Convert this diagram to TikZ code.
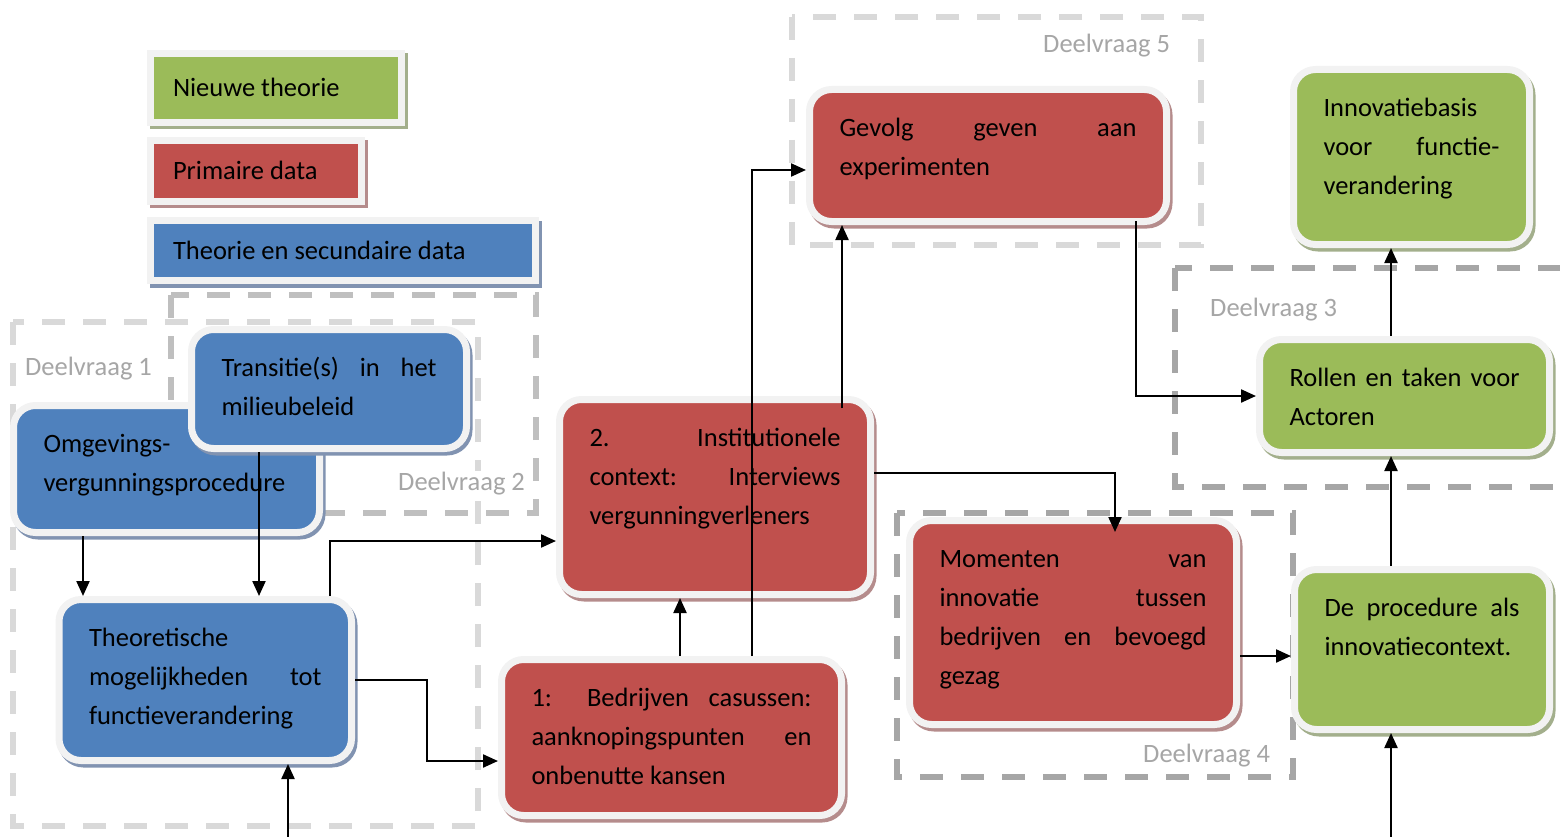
\documentclass[tikz,border=0pt]{standalone}
\usepackage{fontspec}
\setmainfont{Carlito}
\usetikzlibrary{arrows.meta,shadows}

\definecolor{nblue}{HTML}{4F81BD}
\definecolor{nred}{HTML}{C0504D}
\definecolor{ngreen}{HTML}{9BBB59}
\definecolor{nbluesh}{HTML}{8193B1}
\definecolor{nredsh}{HTML}{B58C8C}
\definecolor{ngreensh}{HTML}{A3AF8C}
\definecolor{rimgray}{HTML}{F2F2F2}
\definecolor{dlight}{HTML}{D9D9D9}
\definecolor{dmid}{HTML}{BFBFBF}
\definecolor{ddark}{HTML}{A6A6A6}
\definecolor{lblgray}{HTML}{A6A6A6}

\tikzset{
  boxfont/.style={font=\fontsize{26.5}{39}\selectfont},
  fbx/.style={rounded corners=22pt, fill=#1, draw=rimgray, line width=7pt,
    outer sep=3.5pt, inner xsep=30pt, inner ysep=20pt, boxfont,
    general shadow={shadow xshift=2.5pt, shadow yshift=-3.5pt,
      fill=#1sh, draw=#1sh, line width=7pt}},
  legendbox/.style={rectangle, fill=#1, draw=rimgray, line width=7pt,
    outer sep=3.5pt, inner xsep=22.5pt, inner ysep=0pt, boxfont,
    general shadow={shadow xshift=2.5pt, shadow yshift=-3.5pt,
      fill=#1sh, draw=#1sh, line width=7pt}},
  zone/.style={draw=#1, line width=5.5pt, dash pattern=on 23pt off 18pt},
  zonelabel/.style={text=lblgray, boxfont, inner sep=1pt, fill=white, anchor=base west},
  conn/.style={draw=black, line width=2.2pt, -{Triangle[length=15pt,width=13pt]}},
}

% rounded box: name, x1, y1, x2, y2 (border path), colour, text (set from the top)
\newcommand\flowbox[7]{%
  \pgfmathsetmacro\fbw{#4-#2-60}%
  \pgfmathsetmacro\fbh{#5-#3-40}%
  \node[fbx=#6] (#1) at ({(#2+#4)/2},{(#3+#5)/2})
    {\parbox[c][\fbh pt][t]{\fbw pt}{\tolerance=10000\hyphenpenalty=10000\strut#7}};%
}
% legend entry: name, x1, y1, x2, y2, colour, text
\newcommand\keyentry[7]{%
  \pgfmathsetmacro\fbw{#4-#2-45}%
  \node[legendbox=#6, minimum height={#5-#3}] (#1) at ({(#2+#4)/2},{(#3+#5)/2})
    {\parbox{\fbw pt}{\rule[-12pt]{0pt}{42pt}#7}};%
}

\begin{document}
\begin{tikzpicture}[x=1pt,y=-1pt]
\clip (0,0) rectangle (1560,837);

% sub-question zones
\draw[zone=dlight] (13,322) rectangle (478,826);
\draw[zone=dmid] (171,295) rectangle (536,513);
\draw[zone=dlight] (792,17) rectangle (1201,245);
\draw[zone=ddark] (1175,268) rectangle (1600,487);
\draw[zone=ddark] (897,513) rectangle (1293,777);

\node[zonelabel] (l1) at (24,375) {Deelvraag 1};
\node[zonelabel] (l2) at (397,490) {Deelvraag 2};
\node[zonelabel] (l5) at (1042,53) {Deelvraag 5};
\node[zonelabel] (l3) at (1209,316) {Deelvraag 3};
\node[zonelabel] (l4) at (1142,762) {Deelvraag 4};

% legend
\keyentry{kgreen}{150.5}{53.5}{401.5}{122.5}{ngreen}{Nieuwe theorie}
\keyentry{kred}{150.5}{140.5}{361.5}{201.5}{nred}{Primaire data}
\keyentry{kblue}{150.5}{220.5}{535.5}{280.5}{nblue}{Theorie en secundaire data}

% steps
\flowbox{omg}{13.5}{405.5}{319.5}{532.5}{nblue}{Omgevings-\newline vergunningsprocedure}
\flowbox{trans}{191.5}{329.5}{466.5}{448.5}{nblue}{Transitie(s) in het\linebreak milieubeleid}
\flowbox{theo}{59}{599.5}{351.5}{760.5}{nblue}{Theoretische\newline mogelijkheden tot\linebreak functieverandering}
\flowbox{inst}{559.5}{399.5}{870.5}{594.5}{nred}{2. Institutionele\linebreak context: Interviews\linebreak vergunningverleners}
\flowbox{bedr}{501.5}{659.5}{841.5}{815.5}{nred}{1: Bedrijven casussen:\linebreak aanknopingspunten en\linebreak onbenutte kansen}
\flowbox{gev}{809.5}{89.5}{1166.5}{221.5}{nred}{Gevolg geven aan\linebreak experimenten}
\flowbox{mom}{909.5}{520.5}{1236.5}{724.5}{nred}{Momenten van\linebreak innovatie tussen\linebreak bedrijven en bevoegd\linebreak gezag}
\flowbox{innov}{1293.5}{69.5}{1529.5}{244.5}{ngreen}{Innovatiebasis\newline voor functie-\linebreak verandering}
\flowbox{roll}{1259.5}{339.5}{1549.5}{452.5}{ngreen}{Rollen en taken voor\linebreak Actoren}
\flowbox{proc}{1294.5}{569.5}{1549.5}{729.5}{ngreen}{De procedure als\linebreak innovatiecontext.}

% connector routing points
\coordinate (xa) at (83,0);
\coordinate (xb) at (259,0);
\coordinate (c0) at (288,840);
\coordinate (d1) at (330,541);
\coordinate (e1) at (427,761);
\coordinate (xf) at (680,0);
\coordinate (g1) at (752,170);
\coordinate (xh) at (842,0);
\coordinate (i1) at (1115,473);
\coordinate (xj) at (1136,0);
\coordinate (yk) at (0,656);
\coordinate (xl) at (1391,0);
\coordinate (n0) at (1391,840);

% connectors
\draw[conn] (omg.south -| xa) -- (theo.north -| xa);
\draw[conn] (trans.south -| xb) -- (theo.north -| xb);
\draw[conn] (c0) -- (theo.south -| c0);
\draw[conn] (theo.north -| d1) |- (inst.west |- d1);
\draw[conn] (theo.east) -| (e1) -- (bedr.west |- e1);
\draw[conn] (bedr.north -| xf) -- (inst.south -| xf);
\draw[conn] (bedr.north -| g1) |- (gev.west |- g1);
\draw[conn, shorten <=-12pt] (inst.north -| xh) -- (gev.south -| xh);
\draw[conn, shorten >=-15pt] (inst.east |- i1) -- (i1) -- (mom.north -| i1);
\draw[conn, shorten <=-4pt] (gev.south -| xj) |- (roll.west);
\draw[conn] (mom.east |- yk) -- (proc.west |- yk);
\draw[conn] (proc.north -| xl) -- (roll.south -| xl);
\draw[conn] (roll.north -| xl) -- (innov.south -| xl);
\draw[conn] (n0) -- (proc.south -| n0);
\end{tikzpicture}
\end{document}
